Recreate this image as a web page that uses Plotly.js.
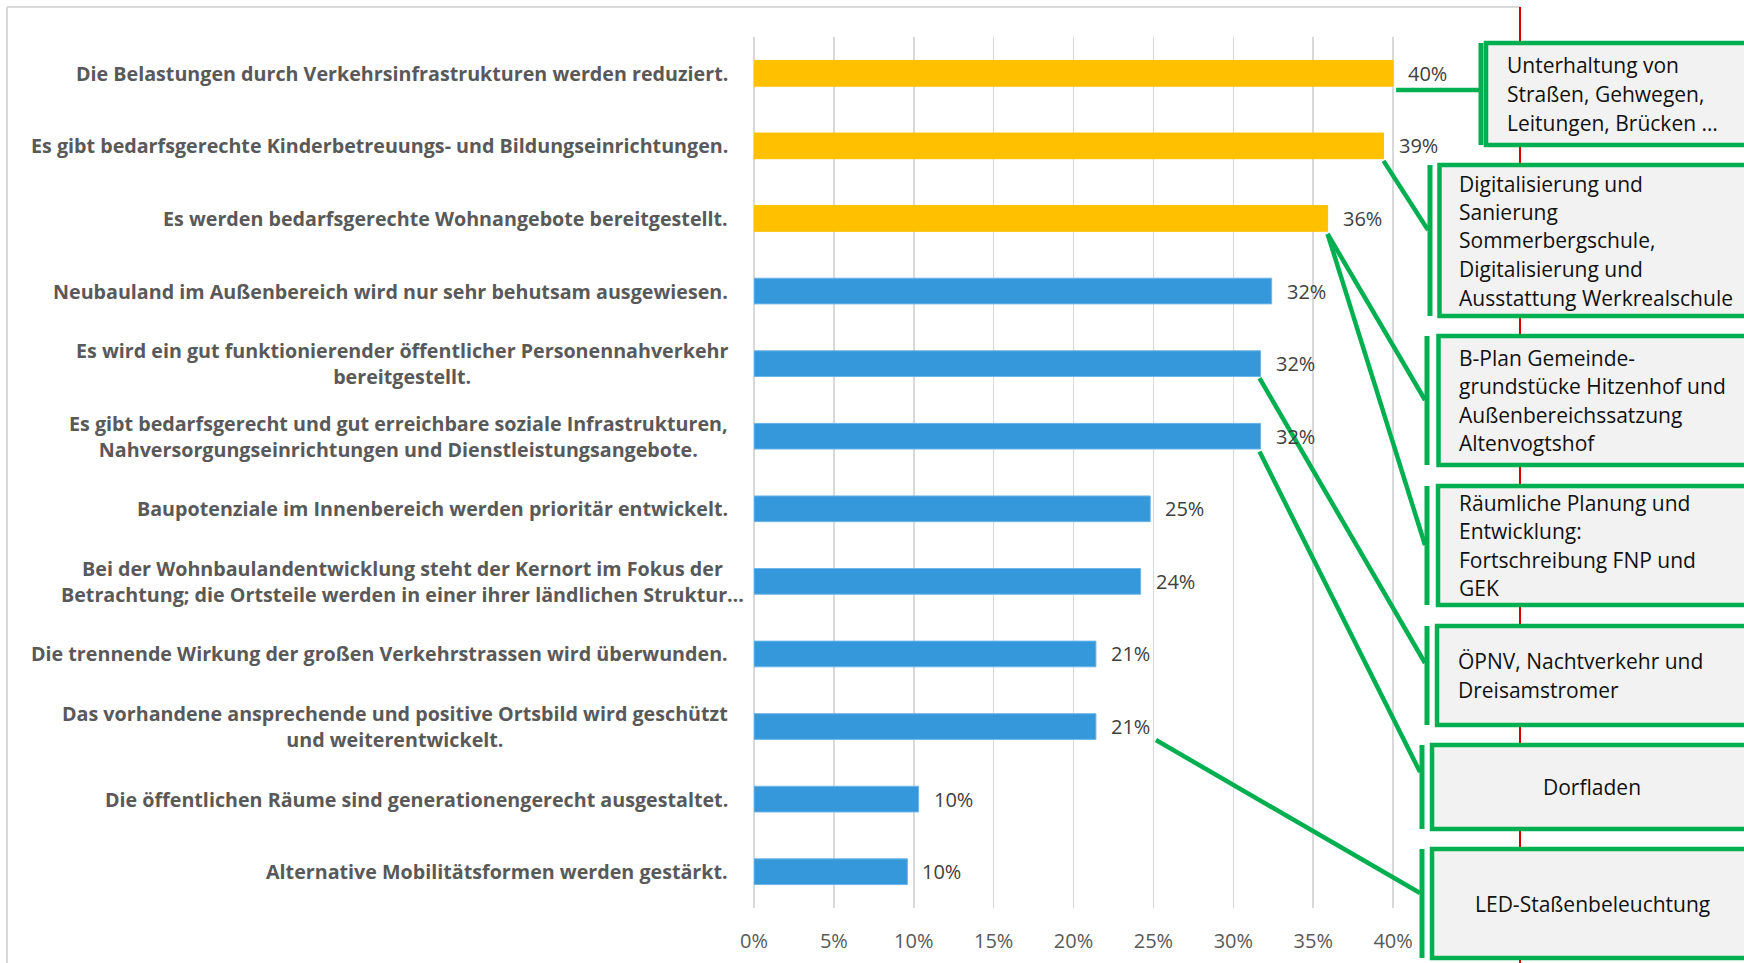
<!DOCTYPE html>
<html><head><meta charset="utf-8">
<script src="https://cdn.plot.ly/plotly-3.0.1.min.js"></script>
<style>html,body{margin:0;padding:0;background:#fff;overflow:hidden}#chart{width:1744px;height:963px}</style>
</head><body><div id="chart"></div>
<script>
// ---------------- data ----------------
const categories = [
  "Die Belastungen durch Verkehrsinfrastrukturen werden reduziert.",
  "Es gibt bedarfsgerechte Kinderbetreuungs- und Bildungseinrichtungen.",
  "Es werden bedarfsgerechte Wohnangebote bereitgestellt.",
  "Neubauland im Außenbereich wird nur sehr behutsam ausgewiesen.",
  "Es wird ein gut funktionierender öffentlicher Personennahverkehr<br>bereitgestellt.",
  "Es gibt bedarfsgerecht und gut erreichbare soziale Infrastrukturen,<br>Nahversorgungseinrichtungen und Dienstleistungsangebote.",
  "Baupotenziale im Innenbereich werden prioritär entwickelt.",
  "Bei der Wohnbaulandentwicklung steht der Kernort im Fokus der<br>Betrachtung; die Ortsteile werden in einer ihrer ländlichen Struktur…",
  "Die trennende Wirkung der großen Verkehrstrassen wird überwunden.",
  "Das vorhandene ansprechende und positive Ortsbild wird geschützt<br>und weiterentwickelt.",
  "Die öffentlichen Räume sind generationengerecht ausgestaltet.",
  "Alternative Mobilitätsformen werden gestärkt."
];
const values = [40.0, 39.4, 35.9, 32.4, 31.7, 31.7, 24.8, 24.2, 21.4, 21.4, 10.3, 9.6];
const valueLabels = ["40%","39%","36%","32%","32%","32%","25%","24%","21%","21%","10%","10%"];
const highlightedCount = 3;
const xTickVals = [0, 5, 10, 15, 20, 25, 30, 35, 40, 45];
const xTickText = ["0%","5%","10%","15%","20%","25%","30%","35%","40%",""];
const calloutTexts = [
  "Unterhaltung von<br>Straßen, Gehwegen,<br>Leitungen, Brücken …",
  "Digitalisierung und<br>Sanierung<br>Sommerbergschule,<br>Digitalisierung und<br>Ausstattung Werkrealschule",
  "B-Plan Gemeinde-<br>grundstücke Hitzenhof und<br>Außenbereichssatzung<br>Altenvogtshof",
  "Räumliche Planung und<br>Entwicklung:<br>Fortschreibung FNP und<br>GEK",
  "ÖPNV, Nachtverkehr und<br>Dreisamstromer",
  "Dorfladen",
  "LED-Staßenbeleuchtung"
];
const calloutSources = [0, 1, 2, 2, 4, 5, 9];

// ---------------- layout geometry (pixels) ----------------
const W = 1744, H = 963;
const PL = 754, PR = 1473, PT = 37, PB = 908;
const PX = x => (x - PL) / (PR - PL);
const PY = y => (PB - y) / (PB - PT);
const GREEN = "#00b050";
const BOX_LINE_H = 28.5;
const boxes = [
  {ax:1481, bx:1486,   y0:43,  y1:145, tx:1505, center:false},
  {ax:1430, bx:1439.5, y0:165, y1:316, tx:1457, center:false},
  {ax:1427, bx:1438.5, y0:336, y1:465, tx:1457, center:false},
  {ax:1427, bx:1438,   y0:486, y1:605, tx:1457, center:false},
  {ax:1427, bx:1437,   y0:626, y1:725, tx:1456, center:false},
  {ax:1422, bx:1432,   y0:745, y1:829, tx:1592, center:true},
  {ax:1422, bx:1432,   y0:849, y1:958, tx:1592, center:true}
];
// leader geometry: start offset from bar end (px), end point at accent bar (px)
const leaderGeom = [
  {dx:3,  dy:16.6, ex:1479, ey:null},
  {dx:0,  dy:15,   ex:1428, ey:230},
  {dx:0,  dy:15.5, ex:1425, ey:400},
  {dx:0,  dy:15.5, ex:1425, ey:545},
  {dx:-1, dy:14.5, ex:1425, ey:663},
  {dx:-1, dy:15.4, ex:1420, ey:772},
  {dx:60, dy:13.5, ex:1420, ey:893}
];

const barColors = values.map((v, i) => i < highlightedCount ? "#ffc000" : "#3598db");
const barLines = values.map((v, i) => i < highlightedCount ? "#ffc000" : "#6db5e8");

const trace = {
  type: "bar", orientation: "h",
  x: values, y: categories,
  marker: {color: barColors, line: {color: barLines, width: 1}},
  hoverinfo: "skip"
};

const shapes = [];
// frame
shapes.push({type:"line", xref:"paper", yref:"paper", x0:PX(7), x1:PX(1520), y0:PY(7), y1:PY(7), line:{color:"#d9d9d9", width:2}});
shapes.push({type:"line", xref:"paper", yref:"paper", x0:PX(7), x1:PX(7), y0:PY(7), y1:PY(970), line:{color:"#d9d9d9", width:2}});
shapes.push({type:"line", xref:"paper", yref:"paper", x0:PX(1520), x1:PX(1520), y0:PY(7), y1:PY(970), line:{color:"#d40000", width:2}});
// callout boxes
boxes.forEach(b => {
  shapes.push({type:"line", xref:"paper", yref:"paper", x0:PX(b.ax), x1:PX(b.ax), y0:PY(b.y0), y1:PY(b.y1), line:{color:GREEN, width:5}});
  shapes.push({type:"rect", xref:"paper", yref:"paper", x0:PX(b.bx), x1:PX(1780), y0:PY(b.y1), y1:PY(b.y0), line:{color:GREEN, width:4.5}, fillcolor:"#f2f2f2"});
});

const annotations = [];
// category labels (centered multi-line, right anchored)
categories.forEach((c, i) => {
  annotations.push({
    xref:"paper", x:PX(i === 7 ? 746 : 730), xanchor:"right",
    yref:"y", y:c, yanchor:"middle",
    text:c, showarrow:false, align:"center",
    font:{family:"'Open Sans', sans-serif", size:19.7, color:"#595959", weight:"bold"}
  });
});
// value labels
values.forEach((v, i) => {
  annotations.push({
    xref:"x", x:v, xanchor:"left", xshift:13,
    yref:"y", y:categories[i], yanchor:"middle",
    text:valueLabels[i], showarrow:false,
    font:{family:"'Open Sans', sans-serif", size:20, color:"#404040"}
  });
});
// callout texts, one annotation per line for Excel-like line spacing
calloutTexts.forEach((t, k) => {
  const b = boxes[k];
  const lines = t.split("<br>");
  const mid = (b.y0 + b.y1) / 2;
  lines.forEach((ln, j) => {
    const cy = mid + (j - (lines.length - 1) / 2) * BOX_LINE_H;
    annotations.push({
      xref:"paper", x:PX(b.tx), xanchor:b.center ? "center" : "left",
      yref:"paper", y:PY(cy), yanchor:"middle",
      text:ln, showarrow:false, align:b.center ? "center" : "left",
      font:{family:"'Open Sans', sans-serif", size:21, color:"#111111"}
    });
  });
});

const layout = {
  width: W, height: H, autosize: false,
  margin: {l: PL, r: W - PR, t: PT, b: H - PB, pad: 0},
  paper_bgcolor: "#ffffff", plot_bgcolor: "#ffffff",
  showlegend: false, bargap: 0.646,
  font: {family: "'Open Sans', sans-serif"},
  xaxis: {
    range: [0, 45], tickvals: xTickVals, ticktext: xTickText,
    showgrid: true, gridcolor: "#d9d9d9", gridwidth: 1.5,
    zeroline: true, zerolinecolor: "#d9d9d9", zerolinewidth: 1.5,
    showline: false, ticks: "", ticklabelstandoff: 19,
    tickfont: {family: "'Open Sans', sans-serif", size: 20, color: "#595959"},
    fixedrange: true
  },
  yaxis: {
    type: "category", autorange: "reversed",
    showgrid: false, zeroline: false, showline: false, showticklabels: false, ticks: "",
    fixedrange: true
  },
  shapes: shapes,
  annotations: annotations
};

const gd = document.getElementById("chart");
Plotly.newPlot(gd, [trace], layout, {staticPlot: true, displayModeBar: false}).then(function(gd) {
  const xa = gd._fullLayout.xaxis, ya = gd._fullLayout.yaxis;
  const toPX = p => (p - xa._offset) / xa._length;
  const toPY = p => (ya._offset + ya._length - p) / ya._length;
  const leaders = calloutSources.map((src, k) => {
    const g = leaderGeom[k];
    const sx = xa._offset + xa.c2p(values[src]) + g.dx;
    const sy = ya._offset + ya.c2p(src) + g.dy;
    const ey = g.ey === null ? sy : g.ey;
    return {type:"line", xref:"paper", yref:"paper", x0:toPX(sx), y0:toPY(sy), x1:toPX(g.ex), y1:toPY(ey), line:{color:GREEN, width:4.5}};
  });
  return Plotly.relayout(gd, {shapes: shapes.concat(leaders)});
});
</script>
</body></html>
